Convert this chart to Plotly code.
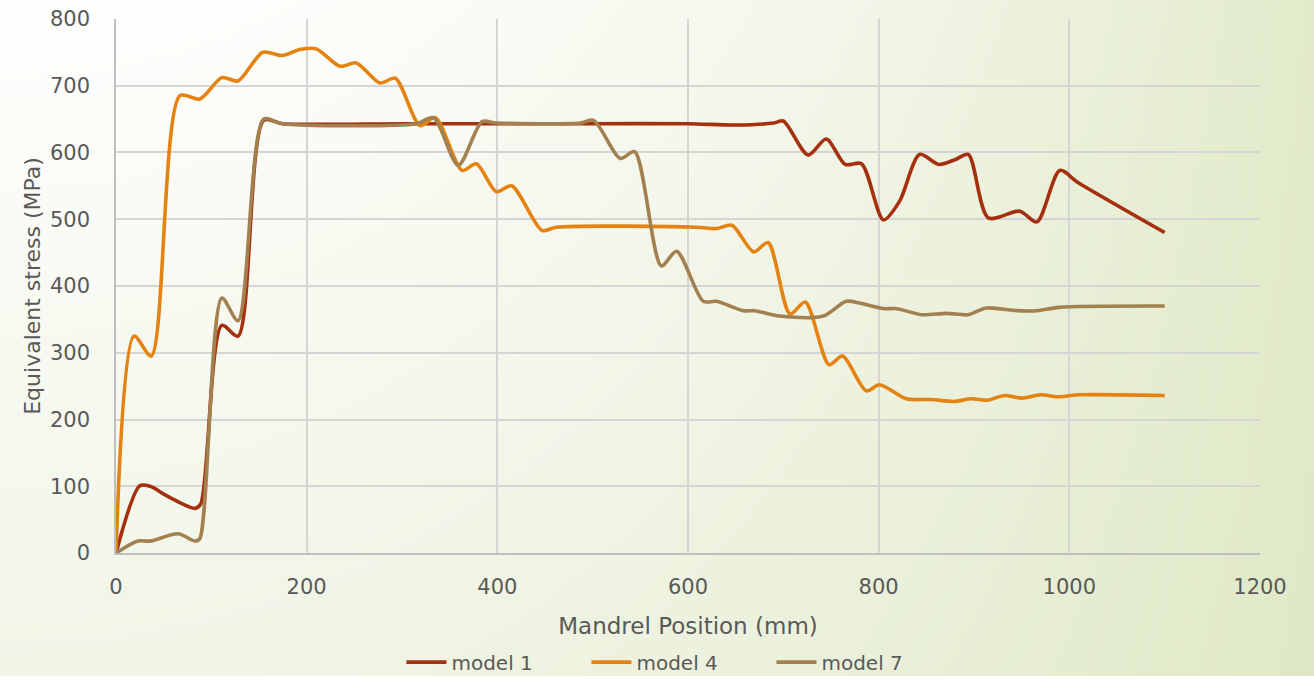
import base64
import struct
import zlib

import plotly.graph_objects as go

# ---------------- data ----------------
m1_x = [0, 25, 36, 53, 83, 89, 111, 128, 155, 175, 300, 400, 500, 600, 651, 690, 700,
        726, 745, 765, 782, 805, 822, 843, 863, 880, 894, 915, 948, 966, 990, 1009, 1100]
m1_y = [0, 101, 100, 86, 67, 74, 341, 325, 648, 643, 643, 643, 643, 643, 641, 644, 647,
        596, 620, 582, 583, 499, 527, 597, 582, 589, 597, 502, 512, 496, 573, 555, 480]

m4_x = [0, 19, 37, 67, 88, 111, 128, 154, 174, 193, 210, 235, 252, 277, 293, 319, 335,
        363, 378, 399, 415, 447, 462, 609, 630, 646, 669, 684, 707, 723, 748, 762, 787,
        801, 829, 855, 879, 897, 914, 932, 950, 970, 987, 1009, 1100]
m4_y = [0, 325, 295, 685, 680, 712, 707, 750, 745, 754, 755, 729, 734, 704, 711, 640, 652,
        573, 583, 541, 550, 483, 488, 488, 486, 491, 451, 465, 358, 376, 282, 295, 243,
        252, 231, 230, 227, 231, 229, 236, 232, 237, 234, 237, 236]

m7_x = [0, 23, 36, 65, 83, 88, 111, 128, 155, 174, 315, 333, 359, 384, 399, 487, 501,
        529, 544, 572, 588, 616, 630, 658, 670, 696, 742, 766, 781, 805, 819, 845, 871,
        894, 913, 945, 966, 989, 1100]
m7_y = [0, 18, 18, 29, 18, 22, 382, 348, 650, 643, 643, 652, 581, 646, 644, 644, 648,
        591, 601, 430, 452, 377, 377, 363, 363, 355, 355, 377, 374, 366, 366, 357, 359,
        357, 367, 363, 363, 368, 370]

series_names = ["model 1", "model 4", "model 7"]
series_colors = ["#A5300F", "#E48312", "#A2804F"]

x_title = "Mandrel Position (mm)"
y_title = "Equivalent stress (MPa)"

# ---------------- background gradient (pure python PNG) ----------------
W, H = 240, 124
WHITE = (254, 254, 253)
GREEN = (218, 229, 189)


def _t(u, v):
    return 1 - (1 - 0.78 * u * u) * (1 - 0.36 * v)


rows = []
for j in range(H):
    v = j / (H - 1)
    row = bytearray([0])
    for i in range(W):
        u = i / (W - 1)
        t = min(1.0, max(0.0, _t(u, v)))
        row += bytes(int(round(a + (b - a) * t)) for a, b in zip(WHITE, GREEN))
    rows.append(bytes(row))
raw = b"".join(rows)


def _chunk(tag, data):
    return (struct.pack(">I", len(data)) + tag + data
            + struct.pack(">I", zlib.crc32(tag + data) & 0xFFFFFFFF))


png = (b"\x89PNG\r\n\x1a\n"
       + _chunk(b"IHDR", struct.pack(">IIBBBBB", W, H, 8, 2, 0, 0, 0))
       + _chunk(b"IDAT", zlib.compress(raw, 9))
       + _chunk(b"IEND", b""))
bg_uri = "data:image/png;base64," + base64.b64encode(png).decode()

# ---------------- figure ----------------
FONT = "DejaVu Sans"
TXT = "#595959"
FIG_W, FIG_H = 1314, 682
# pixel positions (from the top-left of the page) of the plot area in the reference
PX_L, PX_R, PX_T, PX_B = 116, 1260, 19, 558

fig = go.Figure()
for xs, ys, name, col in zip([m1_x, m4_x, m7_x], [m1_y, m4_y, m7_y],
                             series_names, series_colors):
    fig.add_trace(go.Scatter(
        x=xs, y=ys, name=name, mode="lines",
        line=dict(color=col, width=3.6, shape="spline", smoothing=0.8),
    ))

fig.update_layout(
    width=FIG_W, height=FIG_H, autosize=False,
    margin=dict(l=0, r=0, t=0, b=0),
    paper_bgcolor="white",
    plot_bgcolor="rgba(0,0,0,0)",
    template="none",
    font=dict(family=FONT, color=TXT, size=20),
    images=[dict(source=bg_uri, xref="paper", yref="paper", x=0, y=1,
                 sizex=1, sizey=1, sizing="stretch", xanchor="left",
                 yanchor="top", layer="below")],
    showlegend=True,
    legend=dict(orientation="h", x=0.5167, xanchor="center",
                y=(FIG_H - 668) / FIG_H, yanchor="middle",
                font=dict(size=20, color=TXT),
                bgcolor="rgba(0,0,0,0)", itemwidth=40, tracegroupgap=0,
                entrywidth=130),
    xaxis=dict(
        domain=[PX_L / FIG_W, PX_R / FIG_W], range=[0, 1200], dtick=200,
        showgrid=True, gridcolor="#d5d5d5", gridwidth=1.5,
        showline=True, linecolor="#bfbfbf", linewidth=1.6,
        zeroline=False, ticks="", automargin=False, ticklabelstandoff=14,
        tickfont=dict(size=21, color=TXT),
        title=dict(text=x_title, font=dict(size=23, color=TXT), standoff=20),
    ),
    yaxis=dict(
        domain=[(FIG_H - PX_B) / FIG_H, (FIG_H - PX_T) / FIG_H], range=[0, 800],
        dtick=100,
        showgrid=True, gridcolor="#d5d5d5", gridwidth=1.5,
        showline=True, linecolor="#bfbfbf", linewidth=1.6,
        zeroline=False, ticks="", automargin=False, ticklabelstandoff=20,
        tickfont=dict(size=21, color=TXT),
        title=dict(text=y_title, font=dict(size=22, color=TXT), standoff=3),
    ),
)

fig.write_html(
    "out.html",
    config={"displayModeBar": False, "responsive": False},
    post_script="document.body.style.margin='0';document.body.style.overflow='hidden';",
)
